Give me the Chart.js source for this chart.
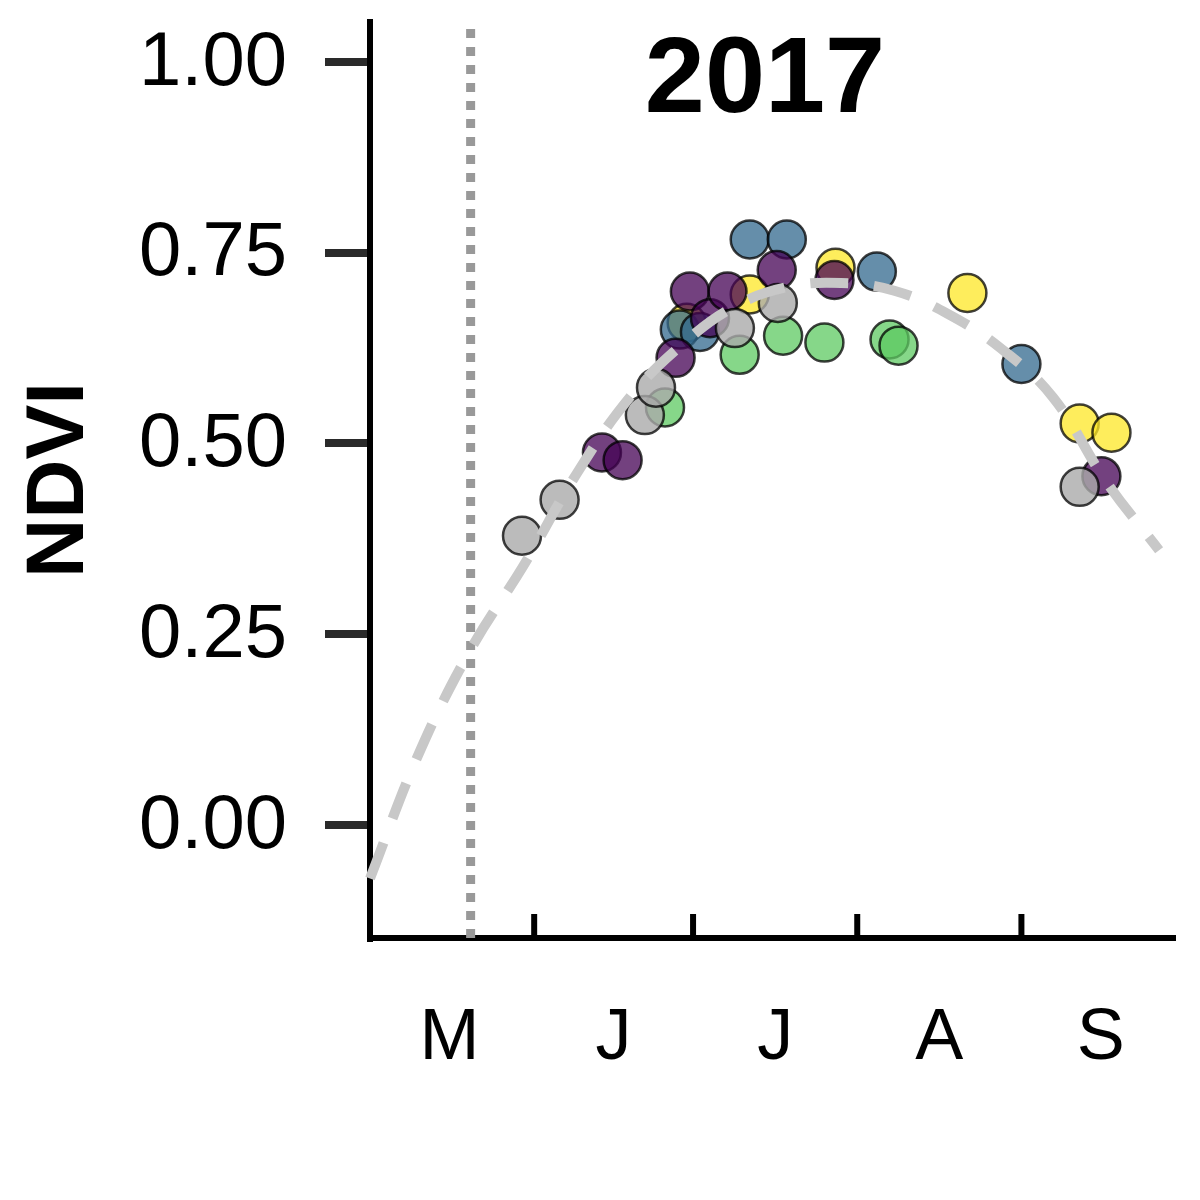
<!DOCTYPE html>
<html><head><meta charset="utf-8">
<script src="https://cdn.jsdelivr.net/npm/chart.js@4"></script>
<style>html,body{margin:0;padding:0;background:#fff}#w{width:1200px;height:1200px}</style>
</head><body><div id="w"><canvas id="c"></canvas></div>
<script>
const curveDays=[121,130,140,150,160,170,180,190,200,210,220,230,240,250,260,270];
const curveVals=[-0.07,0.09,0.23,0.34,0.46,0.56,0.63,0.68,0.705,0.71,0.70,0.67,0.625,0.56,0.45,0.36];
const grayPts=[[149.7,0.379],[156.8,0.426],[172.9,0.537],[175,0.573],[189.9,0.651],[198,0.684],[255,0.443]];
const purplePts=[[164.8,0.488],[168.7,0.478],[178.7,0.612],[181.4,0.699],[185.2,0.664],[188.5,0.699],[197.8,0.727],[208.7,0.714],[259.1,0.457]];
const tealPts=[[179.5,0.649],[183.3,0.646],[192.7,0.767],[199.7,0.767],[216.7,0.725],[244,0.604]];
const greenPts=[[176.7,0.547],[190.8,0.616],[199,0.641],[206.8,0.632],[219.1,0.636],[220.8,0.628]];
const yellowPts=[[180.8,0.658],[192.7,0.695],[208.9,0.730],[233.8,0.697],[255,0.526],[261,0.514]];
const monthStarts=[152,182,213,244];
const monthMids=[136,167,197.5,228.5,259];
const monthLabels=['M','J','J','A','S'];
const yTicks=[0,0.25,0.5,0.75,1.0];
const vLineDay=140;
const title='2017';

const toXY=a=>a.map(p=>({x:p[0],y:p[1]}));
const pt=(data,color)=>({type:'scatter',data:toXY(data),backgroundColor:color,borderColor:'rgba(0,0,0,0.75)',borderWidth:2.5,pointRadius:19,pointHoverRadius:19,clip:false});
const extras={id:'extras',afterDraw(ch){const c=ch.ctx,x=ch.scales.x,y=ch.scales.y,a=ch.chartArea;c.save();
 c.strokeStyle='#000';c.lineWidth=6;
 monthStarts.forEach(d=>{const px=x.getPixelForValue(d);c.beginPath();c.moveTo(px,a.bottom);c.lineTo(px,a.bottom-24);c.stroke();});
 c.fillStyle='#000';c.font='76px Liberation Sans, Arial';c.textAlign='right';c.textBaseline='middle';
 yTicks.forEach(v=>c.fillText(v.toFixed(2),287,y.getPixelForValue(v)+2));
 c.font='bold 108px Liberation Sans, Arial';c.textAlign='center';
 c.fillText(title,765,82);
 c.translate(60,480);c.rotate(-Math.PI/2);c.font='bold 82px Liberation Sans, Arial';c.fillText('NDVI',0,0);
 c.restore();}};
new Chart(document.getElementById('c'),{
 data:{datasets:[
  {type:'line',data:curveDays.map((d,i)=>({x:d,y:curveVals[i]})),borderColor:'#c8c8c8',borderWidth:10,borderDash:[38,26],pointRadius:0,tension:0.4,fill:false,clip:false},
  {type:'line',data:[{x:vLineDay,y:-0.148},{x:vLineDay,y:1.052}],borderColor:'#999',borderWidth:9,borderDash:[9,9],pointRadius:0},
  pt(grayPts,'rgba(170,170,170,0.8)'),
  pt(purplePts,'rgba(68,1,84,0.75)'),
  pt(tealPts,'rgba(49,104,142,0.75)'),
  pt(greenPts,'rgba(94,201,98,0.75)'),
  pt(yellowPts,'rgba(253,231,37,0.75)')
 ]},
 options:{responsive:true,maintainAspectRatio:false,animation:false,events:[],
  layout:{padding:{top:22,right:25,left:0,bottom:0}},
  plugins:{legend:{display:false},tooltip:{enabled:false}},
  scales:{
   x:{type:'linear',min:121,max:273,grid:{display:false},
    border:{display:true,color:'#000',width:6},
    afterBuildTicks:s=>{s.ticks=monthMids.map(v=>({value:v}));},
    afterFit:s=>{s.height=262;},
    ticks:{padding:50,color:'#000',font:{size:72,family:'Liberation Sans, Arial'},maxRotation:0,autoSkip:false,
     callback:(v)=>{const i=monthMids.indexOf(v);return i>=0?monthLabels[i]:'';}}},
   y:{type:'linear',min:-0.148,max:1.052,
    border:{display:true,color:'#000',width:6},
    grid:{drawOnChartArea:false,drawTicks:true,tickLength:45,tickColor:'#2a2a2a',lineWidth:8},
    afterBuildTicks:s=>{s.ticks=yTicks.map(v=>({value:v}));},
    afterFit:s=>{s.width=370;},
    ticks:{display:false}}
  }},
 plugins:[extras]});
</script></body></html>
